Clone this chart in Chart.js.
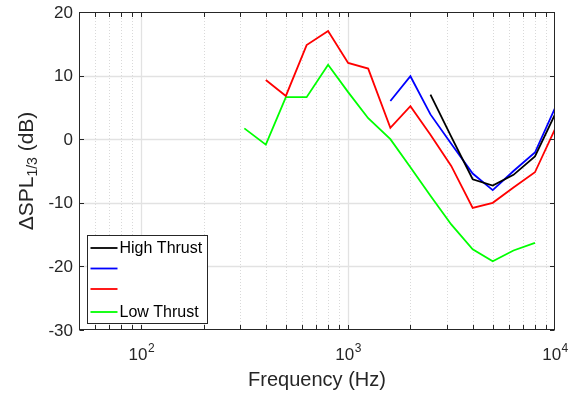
<!DOCTYPE html>
<html>
<head>
<meta charset="utf-8">
<script src="https://cdn.jsdelivr.net/npm/chart.js@4.4.1/dist/chart.umd.min.js"></script>
<style>
html,body{margin:0;padding:0;background:#fff;}
canvas{display:block;}
</style>
</head>
<body>
<canvas id="c" width="575" height="393"></canvas>
<script>
// 1/3-octave band centre frequencies (Hz)
const freqs = [315, 400, 500, 630, 800, 1000, 1250, 1600, 2000, 2500, 3150, 4000, 5000, 6300, 8000, 10000];
// ΔSPL 1/3-octave values (dB), null = not plotted
const highThrust = [null, null, null, null, null, null, null, null, null, 7.0, 0.4, -6.3, -7.3, -5.6, -2.7, 3.9];
const seriesB    = [null, null, null, null, null, null, null, 6.0, 9.9, 3.9, -0.7, -5.4, -8.0, -5.0, -2.1, 4.9];
const seriesC    = [null, 9.3, 6.8, 14.8, 17.0, 12.0, 11.1, 1.8, 5.2, 0.7, -4.2, -10.8, -10.0, -7.6, -5.2, 1.6];
const lowThrust  = [1.7, -0.85, 6.6, 6.6, 11.7, 7.4, 3.3, 0.0, -4.4, -8.9, -13.4, -17.3, -19.2, -17.5, -16.3, null];
const seriesLabels = ['High Thrust', '', '', 'Low Thrust'];
// axis ticks
const yTicks = [-30, -20, -10, 0, 10, 20];
const xMajorTicks = [100, 1000, 10000];
const xTickBase = '10';
const xTickExponents = ['2', '3', '4'];
const xRange = [50, 10000];
const yRange = [-30, 20];
const xTitle = 'Frequency (Hz)';
const yTitleMain = '\u0394SPL';
const yTitleSub = '1/3';
const yTitleEnd = ' (dB)';

const colors = ['#000000', '#0000ff', '#ff0000', '#00ff00'];
const allSeries = [highThrust, seriesB, seriesC, lowThrust];

function pts(arr) {
  return freqs.map((f, i) => ({x: f, y: arr[i]})).filter(p => p.y !== null);
}

const AXC = '#262626';
const FONT = '"Liberation Sans", Arial, Helvetica, sans-serif';

const decor = {
  id: 'decor',
  beforeDatasetsDraw(chart) {
    const {ctx, chartArea: a, scales: {x, y}} = chart;
    ctx.save();
    // minor x grid (dotted)
    ctx.strokeStyle = '#d9d9d9';
    ctx.lineWidth = 1;
    ctx.setLineDash([1, 2]);
    const minors = [];
    for (let d = 10; d < 10000; d *= 10) {
      for (let k = 2; k <= 9; k++) {
        const v = k * d;
        if (v > xRange[0] && v < xRange[1]) minors.push(v);
      }
    }
    minors.forEach(v => {
      const px = Math.round(x.getPixelForValue(v)) + 0.5;
      ctx.beginPath(); ctx.moveTo(px, a.top); ctx.lineTo(px, a.bottom); ctx.stroke();
    });
    ctx.setLineDash([]);
    // major grid
    ctx.strokeStyle = '#e2e2e2';
    ctx.lineWidth = 1.3;
    xMajorTicks.forEach(v => {
      if (v <= xRange[0] || v >= xRange[1]) return;
      const px = Math.round(x.getPixelForValue(v)) + 0.5;
      ctx.beginPath(); ctx.moveTo(px, a.top); ctx.lineTo(px, a.bottom); ctx.stroke();
    });
    yTicks.forEach(v => {
      if (v <= yRange[0] || v >= yRange[1]) return;
      const py = Math.round(y.getPixelForValue(v)) + 0.5;
      ctx.beginPath(); ctx.moveTo(a.left, py); ctx.lineTo(a.right, py); ctx.stroke();
    });
    ctx.restore();
  },
  afterDatasetsDraw(chart) {
    const {ctx, chartArea: a, scales: {x, y}} = chart;
    ctx.save();
    const L = Math.round(a.left) + 0.5, R = Math.round(a.right) - 0.5;
    const T = Math.round(a.top) + 0.5, B = Math.round(a.bottom) - 0.5;
    ctx.strokeStyle = AXC;
    ctx.lineWidth = 1;
    // box
    ctx.strokeRect(L, T, R - L, B - T);
    // x ticks (major + minor), inward, bottom and top
    const tl = 4.5;
    const xt = [];
    for (let d = 10; d <= 10000; d *= 10) {
      for (let k = 1; k <= 9; k++) {
        const v = k * d;
        if (v > xRange[0] && v < xRange[1]) xt.push(v);
      }
    }
    xt.forEach(v => {
      const px = Math.round(x.getPixelForValue(v)) + 0.5;
      ctx.beginPath();
      ctx.moveTo(px, B); ctx.lineTo(px, B - tl);
      ctx.moveTo(px, T); ctx.lineTo(px, T + tl);
      ctx.stroke();
    });
    yTicks.forEach(v => {
      const py = Math.round(y.getPixelForValue(v)) + 0.5;
      ctx.beginPath();
      ctx.moveTo(L, py); ctx.lineTo(L + tl, py);
      ctx.moveTo(R, py); ctx.lineTo(R - tl, py);
      ctx.stroke();
    });
    // y tick labels
    ctx.fillStyle = AXC;
    ctx.font = '17px ' + FONT;
    ctx.textAlign = 'right';
    ctx.textBaseline = 'middle';
    yTicks.forEach(v => {
      ctx.fillText(String(v), a.left - 6, y.getPixelForValue(v) + 1);
    });
    // x tick labels 10^n
    ctx.textBaseline = 'alphabetic';
    ctx.textAlign = 'left';
    xMajorTicks.forEach((v, i) => {
      const px = x.getPixelForValue(v);
      ctx.font = '17px ' + FONT;
      const w1 = ctx.measureText(xTickBase).width;
      ctx.font = '12px ' + FONT;
      const w2 = ctx.measureText(xTickExponents[i]).width;
      const sx = px - (w1 + w2) / 2;
      ctx.font = '17px ' + FONT;
      ctx.fillText(xTickBase, sx, 360);
      ctx.font = '12px ' + FONT;
      ctx.fillText(xTickExponents[i], sx + w1 + 0.5, 352);
    });
    // x title
    ctx.font = '20px ' + FONT;
    ctx.textAlign = 'center';
    ctx.fillText(xTitle, (a.left + a.right) / 2, 386);
    // y title with subscript
    ctx.save();
    ctx.translate(33, (a.top + a.bottom) / 2);
    ctx.rotate(-Math.PI / 2);
    ctx.textAlign = 'left';
    ctx.font = '21px ' + FONT;
    const m1 = ctx.measureText(yTitleMain).width;
    const m3 = ctx.measureText(yTitleEnd).width;
    ctx.font = '14px ' + FONT;
    const m2 = ctx.measureText(yTitleSub).width;
    let sx = -(m1 + m2 + m3) / 2;
    ctx.font = '21px ' + FONT;
    ctx.fillText(yTitleMain, sx, 0);
    ctx.font = '14px ' + FONT;
    ctx.fillText(yTitleSub, sx + m1, 4);
    ctx.font = '21px ' + FONT;
    ctx.fillText(yTitleEnd, sx + m1 + m2, 0);
    ctx.restore();
    // legend
    const lx = 87.5, ly = 235.5, lw = 120, lh = 88;
    ctx.fillStyle = '#ffffff';
    ctx.fillRect(lx, ly, lw, lh);
    ctx.strokeStyle = AXC;
    ctx.lineWidth = 1;
    ctx.strokeRect(lx, ly, lw, lh);
    const rowY = [248, 268.5, 289, 312];
    ctx.font = '16px ' + FONT;
    ctx.textBaseline = 'middle';
    ctx.textAlign = 'left';
    chart.data.datasets.forEach((ds, i) => {
      ctx.strokeStyle = ds.borderColor;
      ctx.lineWidth = 1.8;
      ctx.beginPath();
      ctx.moveTo(90.5, rowY[i]); ctx.lineTo(117.5, rowY[i]);
      ctx.stroke();
      ctx.fillStyle = '#000';
      if (ds.label) ctx.fillText(ds.label, 119.5, rowY[i] + 1);
    });
    ctx.restore();
  }
};

new Chart(document.getElementById('c'), {
  type: 'line',
  data: {
    datasets: allSeries.map((arr, i) => ({
      label: seriesLabels[i],
      data: pts(arr),
      borderColor: colors[i],
      backgroundColor: colors[i],
      borderWidth: 1.8,
      pointRadius: 0,
      tension: 0,
      fill: false
    }))
  },
  options: {
    responsive: false,
    devicePixelRatio: 1,
    animation: false,
    layout: {padding: {left: 79, top: 12, right: 20, bottom: 63}},
    plugins: {legend: {display: false}, tooltip: {enabled: false}},
    scales: {
      x: {type: 'logarithmic', min: xRange[0], max: xRange[1], display: false},
      y: {type: 'linear', min: yRange[0], max: yRange[1], display: false}
    }
  },
  plugins: [decor]
});
</script>
</body>
</html>
